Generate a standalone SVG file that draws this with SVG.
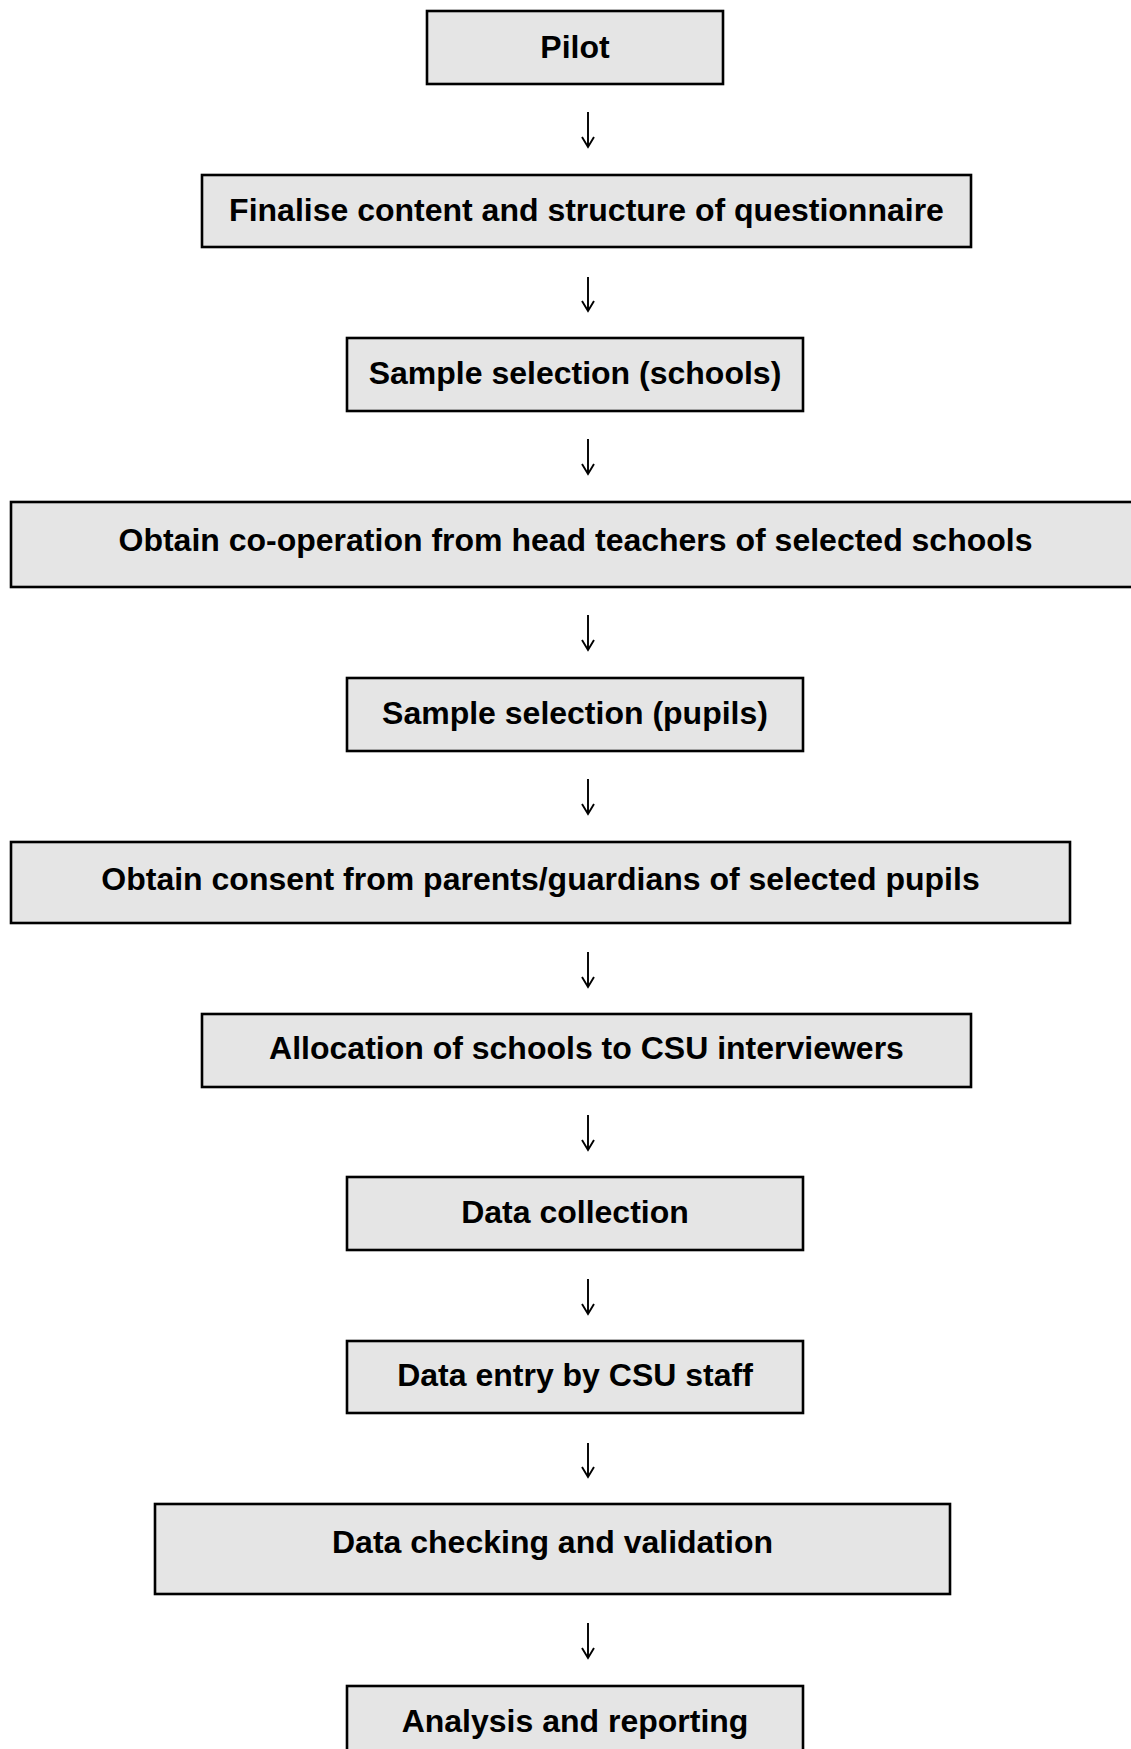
<svg xmlns="http://www.w3.org/2000/svg" width="1131" height="1749" viewBox="0 0 1131 1749">
<style>
.box{fill:#e5e5e5;stroke:#000;stroke-width:2.6}
.lbl{font-family:"Liberation Sans",Arial,sans-serif;font-weight:bold;font-size:32px;fill:#000;text-anchor:middle}
.arr{fill:none;stroke:#000;stroke-width:1.9;stroke-linejoin:miter}
</style>
<rect width="1131" height="1749" fill="#fff"/>
<g id="n1"><rect class="box" x="427" y="11" width="296" height="73"/><text class="lbl" x="575" y="58">Pilot</text></g>
<g id="n2"><rect class="box" x="202" y="175" width="769" height="72"/><text class="lbl" x="586.5" y="221">Finalise content and structure of questionnaire</text></g>
<g id="n3"><rect class="box" x="347" y="338" width="456" height="73"/><text class="lbl" x="575" y="384">Sample selection (schools)</text></g>
<g id="n4"><rect class="box" x="11" y="502" width="1129" height="85"/><text class="lbl" x="575.5" y="551">Obtain co-operation from head teachers of selected schools</text></g>
<g id="n5"><rect class="box" x="347" y="678" width="456" height="73"/><text class="lbl" x="575" y="724">Sample selection (pupils)</text></g>
<g id="n6"><rect class="box" x="11" y="842" width="1059" height="81"/><text class="lbl" x="540.5" y="890">Obtain consent from parents/guardians of selected pupils</text></g>
<g id="n7"><rect class="box" x="202" y="1014" width="769" height="73"/><text class="lbl" x="586.5" y="1059">Allocation of schools to CSU interviewers</text></g>
<g id="n8"><rect class="box" x="347" y="1177" width="456" height="73"/><text class="lbl" x="575" y="1223">Data collection</text></g>
<g id="n9"><rect class="box" x="347" y="1341" width="456" height="72"/><text class="lbl" x="575" y="1386">Data entry by CSU staff</text></g>
<g id="n10"><rect class="box" x="155" y="1504" width="795" height="90"/><text class="lbl" x="552.5" y="1553">Data checking and validation</text></g>
<g id="n11"><rect class="box" x="347" y="1686" width="456" height="80"/><text class="lbl" x="575" y="1732">Analysis and reporting</text></g>
<g id="connectors">
<path class="arr" d="M588 112V147M582 137L588 147L594 137"/>
<path class="arr" d="M588 277V311M582 301L588 311L594 301"/>
<path class="arr" d="M588 439V474M582 464L588 474L594 464"/>
<path class="arr" d="M588 615V650M582 640L588 650L594 640"/>
<path class="arr" d="M588 779V814M582 804L588 814L594 804"/>
<path class="arr" d="M588 952V987M582 977L588 987L594 977"/>
<path class="arr" d="M588 1115V1150M582 1140L588 1150L594 1140"/>
<path class="arr" d="M588 1279V1314M582 1304L588 1314L594 1304"/>
<path class="arr" d="M588 1443V1477M582 1467L588 1477L594 1467"/>
<path class="arr" d="M588 1623V1658M582 1648L588 1658L594 1648"/>
</g>
</svg>
